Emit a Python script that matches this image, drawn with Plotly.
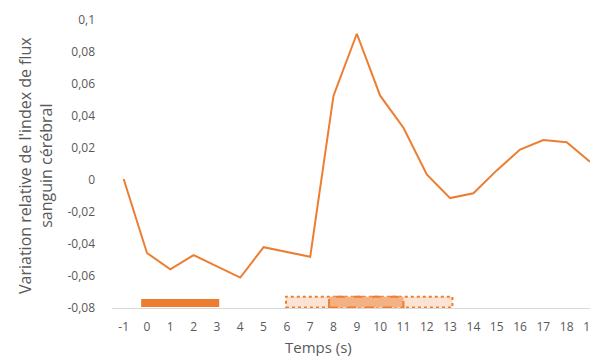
import plotly.graph_objects as go

# ---- data ----
temps = list(range(-1, 20))
variation = [0.0006, -0.0456, -0.0558, -0.0469, -0.054, -0.061, -0.042, -0.045, -0.048,
             0.0527, 0.0914, 0.0527, 0.0327, 0.0035, -0.0113, -0.0083, 0.006, 0.019,
             0.025, 0.0236, 0.0114]
y_ticks = [-0.08, -0.06, -0.04, -0.02, 0, 0.02, 0.04, 0.06, 0.08, 0.1]
y_ticklabels = ["-0,08", "-0,06", "-0,04", "-0,02", "0", "0,02", "0,04", "0,06", "0,08", "0,1"]

# stimulus / response periods (x start, x end, y bottom, y top)
stim_solid = [-0.25, 3.1, -0.0794, -0.0744]
period_light = [5.96, 13.1, -0.0797, -0.0729]
period_dark = [7.81, 11.0, -0.0797, -0.0729]

orange = "#ED7D31"
grey = "#595959"
font = "Open Sans"

fig = go.Figure()
fig.add_trace(go.Scatter(x=temps, y=variation, mode="lines",
                         line=dict(color=orange, width=2), hoverinfo="skip"))

shapes = [
    dict(type="rect", xref="x", yref="y", x0=period_light[0], x1=period_light[1],
         y0=period_light[2], y1=period_light[3], fillcolor="#FBE3D3",
         line=dict(color=orange, width=2, dash="dot"), layer="above"),
    dict(type="rect", xref="x", yref="y", x0=period_dark[0], x1=period_dark[1],
         y0=period_dark[2], y1=period_dark[3], fillcolor="#F4B183",
         line=dict(color=orange, width=2, dash="dash"), layer="above"),
    dict(type="rect", xref="x", yref="y", x0=stim_solid[0], x1=stim_solid[1],
         y0=stim_solid[2], y1=stim_solid[3], fillcolor=orange,
         line=dict(width=0), layer="above"),
]

fig.update_layout(
    width=590, height=356,
    margin=dict(l=112, r=0, t=20, b=48, autoexpand=False),
    paper_bgcolor="white", plot_bgcolor="white",
    showlegend=False,
    shapes=shapes,
    font=dict(family=font, color=grey, size=12),
    xaxis=dict(range=[-1.5, 19.0], tickmode="array", tickvals=temps,
               ticktext=[str(t) for t in temps], showgrid=False, zeroline=False,
               showline=True, linecolor="#D9D9D9", linewidth=1, ticks="",
               automargin=False, ticklabeloverflow="allow",
               ticklabelstandoff=8, tickfont=dict(size=12, color=grey)),
    yaxis=dict(range=[-0.08, 0.1], tickmode="array", tickvals=y_ticks,
               ticktext=y_ticklabels, showgrid=False, zeroline=False,
               showline=False, ticks="", ticklabelstandoff=16, automargin=False,
               tickfont=dict(size=12, color=grey)),
    annotations=[
        dict(text="Temps (s)", xref="paper", yref="paper", x=(318 - 112) / 478,
             y=(308 - 347) / 288, xanchor="center", yanchor="middle", showarrow=False,
             font=dict(size=15, color=grey, family=font)),
        dict(text="Variation relative de l'index de flux<br>sanguin cérébral",
             xref="paper", yref="paper", x=(35 - 112) / 478, y=(308 - 166) / 288,
             xanchor="center", yanchor="middle", showarrow=False, textangle=-90,
             font=dict(size=16, color=grey, family=font)),
    ],
)

fig.write_html("out.html", config={"displayModeBar": False},
               post_script="document.body.style.margin='0';document.body.style.overflow='hidden';")
